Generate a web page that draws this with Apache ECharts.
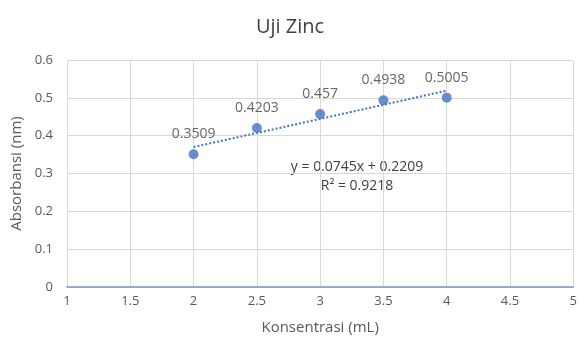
<!DOCTYPE html>
<html>
<head>
<meta charset="utf-8">
<script src="https://cdn.jsdelivr.net/npm/echarts@6/dist/echarts.min.js"></script>
<style>
  html, body { margin: 0; padding: 0; background: #fff; }
  #chart { width: 580px; height: 340px; }
</style>
</head>
<body>
<div id="chart"></div>
<script>
// data
const konsentrasi = [2, 2.5, 3, 3.5, 4];
const absorbansi = [0.3509, 0.4203, 0.457, 0.4938, 0.5005];
const trendX = [2, 4];
const trendY = [0.3699, 0.5189];
const trendText = ['y = 0.0745x + 0.2209', 'R² = 0.9218'];

const chart = echarts.init(document.getElementById('chart'));
const fontFam = '"Open Sans", sans-serif';
const textGray = '#595959';
const darkGray = '#404040';

let option = {
    animation: false,
    textStyle: {fontFamily: fontFam},
    title: {
        text: 'Uji Zinc',
        left: 'center',
        top: 12,
        textStyle: {fontSize: 20, fontWeight: 'normal', color: darkGray, fontFamily: fontFam}
    },
    grid: {left: 67, right: 3, top: 60, bottom: 53},
    xAxis: {
        type: 'value',
        min: 1, max: 5, interval: 0.5,
        name: 'Konsentrasi (mL)',
        nameLocation: 'middle',
        nameGap: 33,
        nameTextStyle: {color: textGray, fontSize: 15, fontFamily: fontFam},
        axisLine: {show: true, lineStyle: {color: '#8096bd', width: 1.5}},
        axisTick: {show: false},
        axisLabel: {color: textGray, fontSize: 13, margin: 8, fontFamily: fontFam},
        splitLine: {show: true, lineStyle: {color: '#d9d9d9'}}
    },
    yAxis: {
        type: 'value',
        min: 0, max: 0.6, interval: 0.1,
        name: 'Absorbansi (nm)',
        nameLocation: 'middle',
        nameGap: 40,
        nameTextStyle: {color: textGray, fontSize: 15, fontFamily: fontFam},
        axisLine: {show: false},
        axisTick: {show: false},
        axisLabel: {color: textGray, fontSize: 13, margin: 14, fontFamily: fontFam},
        splitLine: {show: true, lineStyle: {color: '#d9d9d9'}}
    },
    series: [
        {
            type: 'line',
            data: trendX.map((x, i) => [x, trendY[i]]),
            symbol: 'none',
            lineStyle: {color: '#4472c4', width: 2, type: [2, 2]},
            z: 2,
            silent: true
        },
        {
            type: 'scatter',
            data: konsentrasi.map((x, i) => [x, absorbansi[i]]),
            symbolSize: 10,
            itemStyle: {color: '#4472c4'},
            z: 3,
            label: {
                show: true,
                position: 'top',
                distance: 8,
                color: darkGray,
                fontSize: 14,
                fontFamily: fontFam,
                formatter: p => String(p.value[1])
            }
        }
    ],
    graphic: [
        {
            type: 'text',
            x: 357, y: 167,
            style: {text: trendText[0], fill: darkGray, fontSize: 14, fontFamily: fontFam,
                    align: 'center', verticalAlign: 'middle'}
        },
        {
            type: 'text',
            x: 357, y: 186,
            style: {text: trendText[1], fill: darkGray, fontSize: 14, fontFamily: fontFam,
                    align: 'center', verticalAlign: 'middle'}
        }
    ]
};
chart.setOption(option);
</script>
</body>
</html>
